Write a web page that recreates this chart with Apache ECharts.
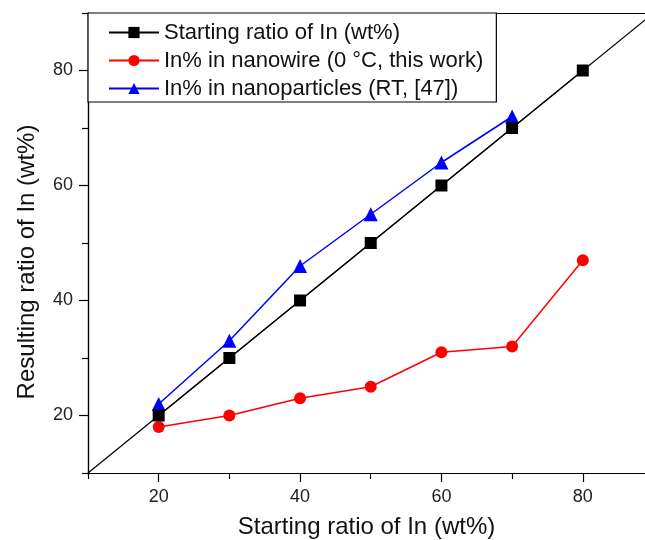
<!DOCTYPE html>
<html>
<head>
<meta charset="utf-8">
<script src="https://cdn.jsdelivr.net/npm/echarts@6/dist/echarts.min.js"></script>
<style>
  html, body { margin: 0; padding: 0; background: #fff; }
  #chart { width: 645px; height: 540px; }
</style>
</head>
<body>
<div id="chart"></div>
<script>
// 数据
var startX = [20, 30, 40, 50, 60, 70, 80];
var startY = [20, 30, 40, 50, 60, 70, 80];
var wireY = [18, 20, 23, 25, 31, 32, 47];
var particleX = [20, 30, 40, 50, 60, 70];
var particleY = [22, 33, 46, 55, 64, 72];
var diagonal = [10, 100];
var majorTicks = [20, 40, 60, 80];
var minorTicks = [10, 30, 50, 70, 90];

var names = ['Starting ratio of In (wt%)', 'In% in nanowire (0 \u00B0C, this work)', 'In% in nanoparticles (RT, [47])'];

function pairs(xs, ys) {
  return xs.map(function (x, i) { return [x, ys[i]]; });
}

var font = 'Liberation Sans, Arial, sans-serif';
var myChart = echarts.init(document.getElementById('chart'));

var baseAxis = {
  type: 'value',
  min: 10,
  splitLine: { show: false },
  axisLine: { show: true, onZero: false, lineStyle: { color: '#000', width: 1.2 } }
};

var option = {
  animation: false,
  backgroundColor: '#fff',
  grid: { left: 88, right: 0, top: 13, bottom: 67, outerBoundsMode: 'none' },
  legend: {
    data: names,
    orient: 'vertical',
    left: 88,
    top: 13,
    padding: [8, 13, 2, 20],
    itemWidth: 50,
    itemHeight: 14,
    itemGap: 5,
    backgroundColor: '#fff',
    borderColor: '#000',
    borderWidth: 1.2,
    borderRadius: 0,
    textStyle: { fontFamily: font, fontSize: 22, color: '#111', lineHeight: 23 }
  },
  xAxis: [
    Object.assign({}, baseAxis, {
      max: 88.8,
      position: 'bottom',
      name: 'Starting ratio of In (wt%)',
      nameLocation: 'middle',
      nameGap: 42,
      nameTextStyle: { fontFamily: font, fontSize: 24, color: '#111' },
      axisTick: { show: true, customValues: majorTicks, length: 9, lineStyle: { color: '#000', width: 1.2 } },
      axisLabel: { customValues: majorTicks, margin: 15, fontFamily: font, fontSize: 18, color: '#222' }
    }),
    Object.assign({}, baseAxis, {
      max: 88.8,
      position: 'bottom',
      axisTick: { show: true, customValues: minorTicks, length: 6, lineStyle: { color: '#000', width: 1.2 } },
      axisLabel: { show: false }
    }),
    Object.assign({}, baseAxis, {
      max: 88.8,
      position: 'top',
      axisTick: { show: false },
      axisLabel: { show: false }
    })
  ],
  yAxis: [
    Object.assign({}, baseAxis, {
      max: 90,
      position: 'left',
      name: 'Resulting ratio of In (wt%)',
      nameLocation: 'middle',
      nameGap: 49,
      nameTextStyle: { fontFamily: font, fontSize: 24, color: '#111', padding: [0, 38, 0, 0] },
      axisTick: { show: true, customValues: majorTicks, length: 9, lineStyle: { color: '#000', width: 1.2 } },
      axisLabel: { customValues: majorTicks, margin: 15, fontFamily: font, fontSize: 18, color: '#222' }
    }),
    Object.assign({}, baseAxis, {
      max: 90,
      position: 'left',
      axisTick: { show: true, customValues: minorTicks, length: 6, lineStyle: { color: '#000', width: 1.2 } },
      axisLabel: { show: false }
    })
  ],
  series: [
    {
      type: 'line',
      data: pairs(diagonal, diagonal),
      symbol: 'none',
      lineStyle: { color: '#000', width: 1.2 },
      silent: true,
      z: 1
    },
    {
      name: names[0],
      type: 'line',
      data: pairs(startX, startY),
      symbol: 'rect',
      symbolSize: 12,
      itemStyle: { color: '#000' },
      lineStyle: { color: '#000', width: 1.2 },
      z: 3
    },
    {
      name: names[1],
      type: 'line',
      data: pairs(startX, wireY),
      symbol: 'circle',
      symbolSize: 12,
      itemStyle: { color: '#ff0000' },
      lineStyle: { color: '#ff0000', width: 1.5 },
      z: 2
    },
    {
      name: names[2],
      type: 'line',
      data: pairs(particleX, particleY),
      symbol: 'triangle',
      symbolSize: 14,
      itemStyle: { color: '#0000ff' },
      lineStyle: { color: '#0000ff', width: 1.5 },
      z: 2
    }
  ]
};

myChart.setOption(option);
</script>
</body>
</html>
